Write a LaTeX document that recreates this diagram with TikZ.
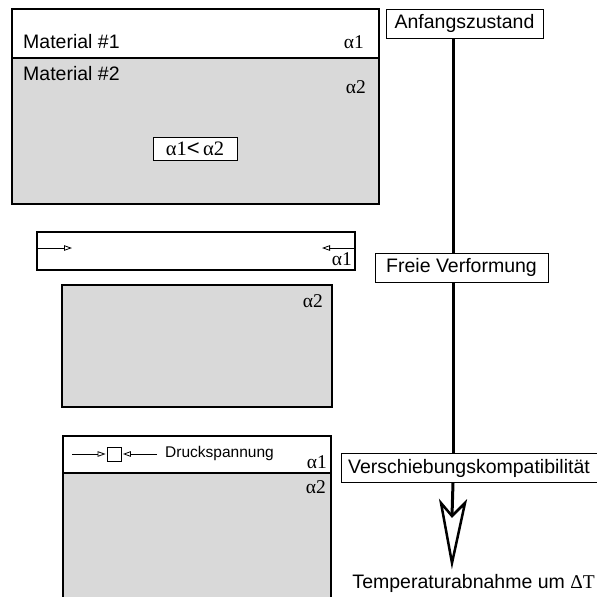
\documentclass[tikz,border=0pt]{standalone}
\usepackage{fontspec}
\setmainfont{Liberation Sans}
\newfontfamily\serifgr{Liberation Serif}
\usetikzlibrary{arrows.meta}
\definecolor{matgray}{RGB}{217,217,217}
\begin{document}
\begin{tikzpicture}[x=1pt,y=-1pt,
  matbox/.style={draw=black, line width=1.2pt},
  lbl/.style={font=\fontsize{19.5}{23}\selectfont, inner sep=0pt},
  alph/.style={font=\serifgr\fontsize{19.5}{23}\selectfont, inner sep=0pt},
  stage/.style={draw=black, line width=0.9pt, fill=white, inner sep=0pt,
    font=\fontsize{19.5}{23}\selectfont, minimum height=29pt},
  flow/.style={line width=3pt},
  force/.style={line width=0.8pt, -{Triangle[open, length=8pt, width=5.5pt]}}]
\useasboundingbox (0,0) rectangle (597,597);

% ---- initial state
\fill[matgray] (12,58) rectangle (379,204);
\draw[matbox] (12,9) rectangle (379,204);
\draw[matbox] (12,58) -- (379,58);
\node[lbl, anchor=base west] (m1) at (23,48) {Material \#1};
\node[lbl, anchor=base west] (m2) at (23,80) {Material \#2};
\node[alph, anchor=base east] (a1top) at (364,48) {α1};
\node[alph, anchor=base east] (a2top) at (366,93) {α2};
\node[draw=black, line width=0.9pt, fill=white, font=\serifgr\fontsize{20.5}{23}\selectfont,
  minimum width=84pt, minimum height=23pt, inner sep=0pt] (cmp) at (195,148.5) {α1{\rmfamily\fontsize{22}{23}\selectfont <}\,α2};

% ---- free deformation
\draw[matbox] (37,232) rectangle (355,270);
\coordinate (sl) at (37,248);
\coordinate (sr) at (355,248);
\coordinate (tl) at (72,248);
\coordinate (tr) at (322,248);
\draw[force] (sl) -- (tl);
\draw[force] (sr) -- (tr);
\node[alph, anchor=base east] (a1s) at (352,265) {α1};
\filldraw[matgray, draw=black, line width=1.2pt] (62,285) rectangle (332,407);
\node[alph, anchor=base east] (a2s) at (323,307) {α2};

% ---- compatibility
\fill[matgray] (63,473) rectangle (331,599);
\draw[matbox] (63,436) rectangle (331,599);
\draw[matbox] (63,473) -- (331,473);
\node[draw=black, line width=0.8pt, fill=white, minimum size=14pt, inner sep=0pt] (sq) at (114,454) {};
\coordinate (dl) at (72,454);
\coordinate (dr) at (157,454);
\draw[force, shorten >=1pt] (dl) -- (sq.west);
\draw[force, shorten >=1.5pt] (dr) -- (sq.east);
\node[font=\fontsize{15.5}{18}\selectfont, inner sep=0pt, anchor=west] (druck) at (165,453) {Druckspannung};
\node[alph, anchor=base east] (a1b) at (327,468) {α1};
\node[alph, anchor=base east] (a2b) at (326,493) {α2};

% ---- flow on the right
\node[stage, minimum width=157pt] (anf) at (464.5,23.5) {Anfangszustand};
\node[stage, minimum width=173pt] (frei) at (461.5,267.5) {Freie Verformung};
\node[stage, minimum width=256pt] (vers) at (469,468) {Verschiebungskompatibilität};
\coordinate (ax) at (453,0);
\coordinate (notch) at (452,516);
\coordinate (tip) at (452,563);
\draw[flow] (ax |- anf.south) -- (ax |- frei.north);
\draw[flow] (ax |- frei.south) -- (ax |- vers.north);
\draw[flow] (ax |- vers.south) -- (notch);
\draw[line width=2.5pt, fill=white, line join=miter] (441,503) -- (notch) -- (465,503) -- (tip) -- cycle;
\node[lbl, anchor=base east] (temp) at (595,588) {Temperaturabnahme um {\serifgr ΔT}};
\end{tikzpicture}
\end{document}
